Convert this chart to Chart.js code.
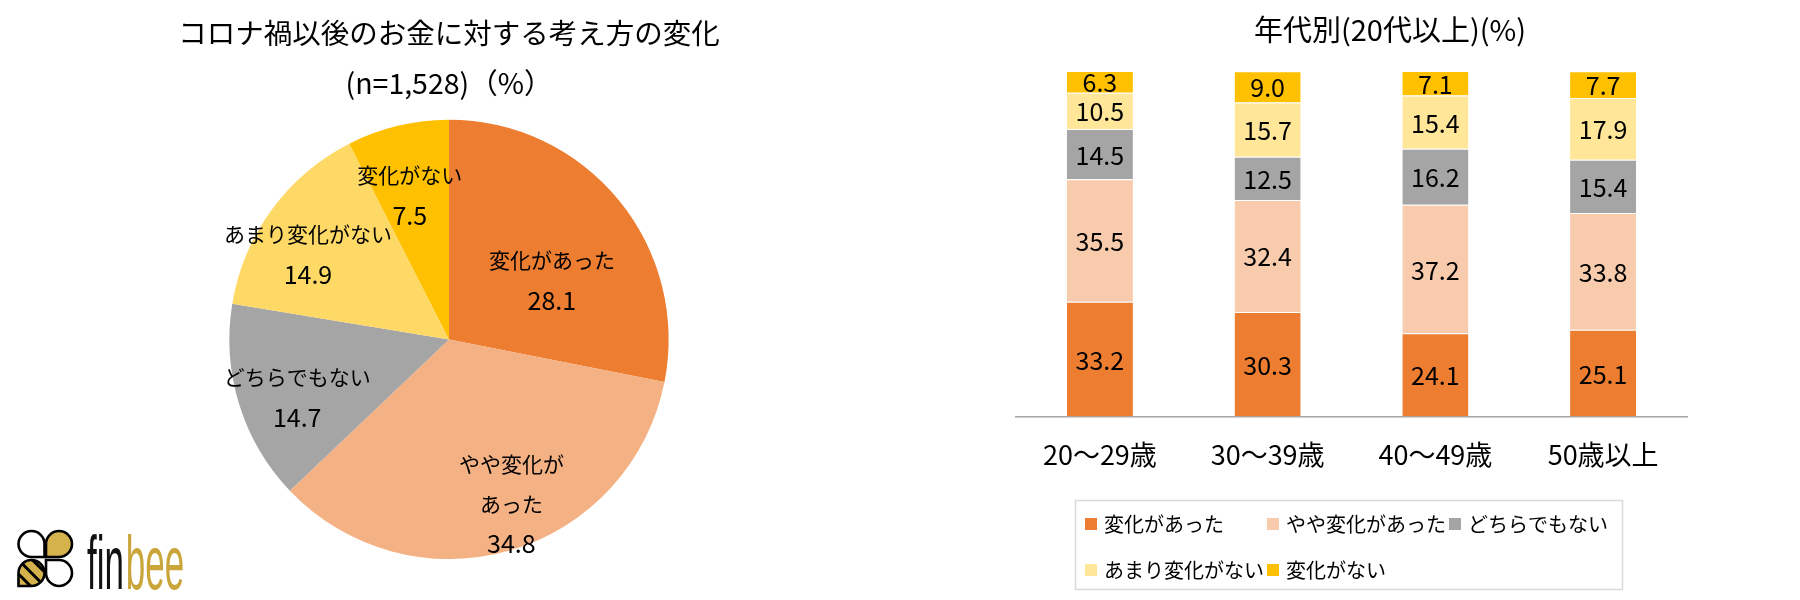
<!DOCTYPE html>
<html><head><meta charset="utf-8">
<script src="https://cdn.jsdelivr.net/npm/chart.js@4.4.0/dist/chart.umd.min.js"></script>
<style>
html,body{margin:0;padding:0;background:#fff;width:1800px;height:600px;overflow:hidden}
#pieWrap{position:absolute;left:0;top:0;width:898px;height:600px}
#barWrap{position:absolute;left:900px;top:0;width:900px;height:600px}
</style></head><body>
<div id="pieWrap"><canvas id="pie"></canvas></div>
<div id="barWrap"><canvas id="bar"></canvas></div>
<script>
const FONT = '"Noto Sans CJK JP", "Noto Sans", sans-serif';

// ---- data: pie ----
const pieTitle = ['コロナ禍以後のお金に対する考え方の変化', '(n=1,528)（%）'];
const pieCategories = ['変化があった', 'やや変化があった', 'どちらでもない', 'あまり変化がない', '変化がない'];
const pieValues = [28.1, 34.8, 14.7, 14.9, 7.5];

// ---- data: bars ----
const barTitle = '年代別(20代以上)(%)';
const barCategories = ['20～29歳', '30～39歳', '40～49歳', '50歳以上'];
const seriesNames = ['変化があった', 'やや変化があった', 'どちらでもない', 'あまり変化がない', '変化がない'];
const changed = [33.2, 30.3, 24.1, 25.1];
const slightlyChanged = [35.5, 32.4, 37.2, 33.8];
const neither = [14.5, 12.5, 16.2, 15.4];
const littleChange = [10.5, 15.7, 15.4, 17.9];
const noChange = [6.3, 9.0, 7.1, 7.7];

// ---- styles ----
const pieColors = ['#ED7D31', '#F4B183', '#A5A5A5', '#FFD966', '#FFC000'];
const barColors = ['#ED7D31', '#F8CBAD', '#A5A5A5', '#FFE699', '#FFC000'];
const pieLabelLayout = [
  {frac: 0.54, turn: 9.6}, {frac: 0.80, turn: -4.6}, {frac: 0.74, turn: -3.8},
  {frac: 0.75, turn: -5.1}, {frac: 0.68, turn: -1.7}
];
const pieNameWrap = {'やや変化があった': ['やや変化が', 'あった']};

Chart.defaults.font.family = FONT;
Chart.defaults.color = '#000';

const pieLabelPlugin = {
  id: 'pieLabels',
  afterDatasetsDraw(chart) {
    const ctx = chart.ctx;
    const meta = chart.getDatasetMeta(0);
    ctx.save();
    ctx.textAlign = 'center';
    ctx.textBaseline = 'middle';
    ctx.fillStyle = '#000';
    meta.data.forEach((arc, i) => {
      const p = arc.getProps(['x', 'y', 'startAngle', 'endAngle', 'outerRadius'], true);
      const L = pieLabelLayout[i];
      const a = (p.startAngle + p.endAngle) / 2 + L.turn * Math.PI / 180;
      const cx = p.x + Math.cos(a) * p.outerRadius * L.frac;
      const cy = p.y + Math.sin(a) * p.outerRadius * L.frac;
      const label = chart.data.labels[i];
      const names = pieNameWrap[label] || [label];
      const lines = names.concat([chart.data.datasets[0].data[i].toFixed(1)]);
      const lh = 40;
      const y0 = cy - (lines.length - 1) * lh / 2;
      lines.forEach((t, k) => {
        ctx.font = (k < names.length ? '21px ' : '25px ') + FONT;
        ctx.fillText(t, cx, y0 + k * lh);
      });
    });
    ctx.restore();
  }
};

function petal(ctx, cx, cy, r, q) {
  // circle with one square corner in quadrant starting at angle q (radians)
  ctx.beginPath();
  ctx.moveTo(cx + r * Math.cos(q), cy + r * Math.sin(q));
  ctx.lineTo(cx + r * (Math.cos(q) + Math.cos(q + Math.PI / 2)), cy + r * (Math.sin(q) + Math.sin(q + Math.PI / 2)));
  ctx.lineTo(cx + r * Math.cos(q + Math.PI / 2), cy + r * Math.sin(q + Math.PI / 2));
  ctx.arc(cx, cy, r, q + Math.PI / 2, q + Math.PI * 2);
  ctx.closePath();
}

const logoPlugin = {
  id: 'logo',
  afterDraw(chart) {
    const ctx = chart.ctx;
    ctx.save();
    const gold = '#D4B24C';
    const r = 13, H = Math.PI / 2;
    const petals = [
      {x: 31.5, y: 544, q: 0, fill: '#fff'},
      {x: 59, y: 544, q: H, fill: gold},
      {x: 31.5, y: 573, q: H, fill: gold, stripes: true},
      {x: 59, y: 573, q: 2 * H, fill: '#fff'}
    ];
    ctx.lineWidth = 2.6;
    ctx.strokeStyle = '#000';
    petals.forEach(pt => {
      petal(ctx, pt.x, pt.y, r, pt.q);
      ctx.fillStyle = pt.fill;
      ctx.fill();
      if (pt.stripes) {
        ctx.save();
        ctx.clip();
        ctx.lineWidth = 3;
        for (let k = -2; k <= 2; k++) {
          ctx.beginPath();
          ctx.moveTo(pt.x - 20 + k * 7, pt.y - 20 - k * 7);
          ctx.lineTo(pt.x + 20 + k * 7, pt.y + 20 - k * 7);
          ctx.stroke();
        }
        ctx.restore();
      }
      petal(ctx, pt.x, pt.y, r, pt.q);
      ctx.stroke();
    });
    // wordmark
    ctx.translate(87, 589);
    ctx.scale(0.46, 1);
    ctx.font = '76px "Liberation Sans", sans-serif';
    ctx.textBaseline = 'alphabetic';
    ctx.textAlign = 'left';
    ctx.fillStyle = '#111';
    ctx.fillText('fin', 0, 0);
    const w = ctx.measureText('fin').width;
    ctx.fillStyle = '#C9A53A';
    ctx.fillText('bee', w + 4, 0);
    ctx.restore();
  }
};

new Chart(document.getElementById('pie'), {
  type: 'pie',
  data: {
    labels: pieCategories,
    datasets: [{data: pieValues, backgroundColor: pieColors, borderWidth: 0}]
  },
  options: {
    responsive: true, maintainAspectRatio: false, animation: false,
    layout: {padding: {top: 0, bottom: 41, left: 0, right: 0}},
    plugins: {
      legend: {display: false},
      tooltip: {enabled: false},
      title: {
        display: true, text: pieTitle, color: '#000',
        font: {family: FONT, size: 28.5, weight: 'normal', lineHeight: 1.75},
        padding: {top: 8, bottom: 12}
      }
    }
  },
  plugins: [pieLabelPlugin, logoPlugin]
});

// ---- bar chart ----
const barSeries = [changed, slightlyChanged, neither, littleChange, noChange];

const barLabelPlugin = {
  id: 'barLabels',
  afterDatasetsDraw(chart) {
    const ctx = chart.ctx;
    ctx.save();
    ctx.textAlign = 'center';
    ctx.textBaseline = 'middle';
    ctx.fillStyle = '#000';
    ctx.font = '25px ' + FONT;
    chart.data.datasets.forEach((ds, di) => {
      chart.getDatasetMeta(di).data.forEach((el, j) => {
        const p = el.getProps(['x', 'y', 'base'], true);
        ctx.fillText(ds.data[j].toFixed(1), p.x, (p.y + p.base) / 2 + 1);
      });
    });
    ctx.restore();
  }
};

const barTitlePlugin = {
  id: 'barTitle',
  afterDraw(chart) {
    const ctx = chart.ctx;
    ctx.save();
    ctx.textAlign = 'center';
    ctx.textBaseline = 'middle';
    ctx.fillStyle = '#000';
    ctx.font = '29px ' + FONT;
    ctx.fillText(barTitle, 490, 30);
    ctx.restore();
  }
};

const barLegendPlugin = {
  id: 'gridLegend',
  afterDraw(chart) {
    const ctx = chart.ctx;
    ctx.save();
    ctx.strokeStyle = '#D9D9D9';
    ctx.lineWidth = 1.5;
    ctx.strokeRect(175.5, 500.5, 547, 89);
    const cols = [185, 367, 549];
    const rows = [524, 570];
    ctx.font = '20px ' + FONT;
    ctx.textAlign = 'left';
    ctx.textBaseline = 'middle';
    chart.data.datasets.forEach((ds, i) => {
      const x = cols[i % 3], y = rows[Math.floor(i / 3)];
      ctx.fillStyle = ds.backgroundColor;
      ctx.fillRect(x, y - 6, 12, 12);
      ctx.fillStyle = '#000';
      ctx.fillText(ds.label, x + 19, y);
    });
    ctx.restore();
  }
};

new Chart(document.getElementById('bar'), {
  type: 'bar',
  data: {
    labels: barCategories,
    datasets: seriesNames.map((n, i) => ({
      label: n,
      data: barSeries[i],
      backgroundColor: barColors[i],
      borderColor: '#FFFFFF',
      borderWidth: {top: 1, left: 0, right: 0, bottom: 0},
      borderSkipped: false,
      barPercentage: 0.394,
      categoryPercentage: 1
    }))
  },
  options: {
    responsive: true, maintainAspectRatio: false, animation: false,
    layout: {padding: {top: 71, left: 116, right: 113, bottom: 107}},
    scales: {
      x: {
        stacked: true,
        grid: {display: false, drawTicks: false},
        border: {display: true, color: '#A6A6A6', width: 1.5},
        ticks: {color: '#000', font: {family: FONT, size: 27}, padding: 22}
      },
      y: {stacked: true, display: false, min: 0, max: 100}
    },
    plugins: {legend: {display: false}, tooltip: {enabled: false}, title: {display: false}}
  },
  plugins: [barLabelPlugin, barTitlePlugin, barLegendPlugin]
});
</script>
</body></html>
